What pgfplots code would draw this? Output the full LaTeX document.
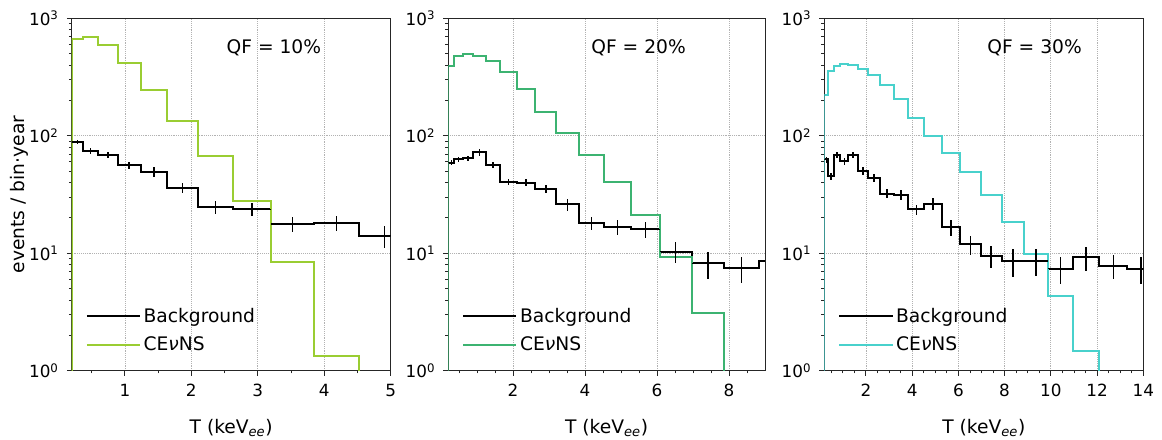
\documentclass[border=0pt]{standalone}
\usepackage{fontspec}
\setmainfont{DejaVu Sans}
\usepackage{pgfplots}
\usepackage{pgfplotstable}
\pgfplotsset{compat=1.18}

\definecolor{qften}{HTML}{9ACD32}
\definecolor{qftwenty}{HTML}{3CB371}
\definecolor{qfthirty}{HTML}{48D1CC}

% ---------- QF = 10% ----------
\pgfplotstableread{
x y
0.20 0.5
0.20 670
0.37 692
0.60 588
0.89 419
1.24 244
1.64 134
2.10 67.9
2.62 27.9
3.20 8.35
3.84 1.33
4.53 0.5
}\sigA
\pgfplotstableread{
x y
0.20 88.6
0.37 74.3
0.60 68.3
0.89 56.1
1.24 49.2
1.64 36.0
2.10 24.8
2.62 23.6
3.20 17.8
3.84 18.1
4.53 14.1
5.28 14.1
}\bkgA
\pgfplotstableread{
x y ex ey
0.285 88.6 0.085 3.5
0.485 74.3 0.115 4.5
0.745 68.3 0.145 4.1
1.065 56.1 0.175 3.8
1.44 49.2 0.20 4.7
1.87 36.0 0.23 3.5
2.36 24.8 0.26 3.1
2.91 23.6 0.29 3.0
3.52 17.8 0.32 2.6
4.185 18.1 0.345 2.7
4.905 14.1 0.375 3.0
}\errA

% ---------- QF = 20% ----------
\pgfplotstableread{
x y
0.20 0.5
0.20 392
0.37 474
0.60 500
0.89 477
1.24 430
1.64 347
2.10 249
2.62 159
3.20 105
3.84 68.3
4.53 40.2
5.28 21.1
6.08 9.21
6.96 3.08
7.87 0.5
}\sigB
\pgfplotstableread{
x y
0.20 59.2
0.37 62.9
0.60 64.3
0.89 72.2
1.24 56.9
1.64 40.2
2.10 39.8
2.62 35.5
3.20 26.1
3.84 18.1
4.53 16.8
5.28 16.0
6.08 10.3
6.96 8.19
7.87 7.43
8.84 8.57
9.87 8.57
}\bkgB
\pgfplotstableread{
x y ex ey
0.285 59.2 0.085 2.9
0.485 62.9 0.115 3.1
0.745 64.3 0.145 3.2
1.065 72.2 0.175 4.3
1.44 56.9 0.20 3.4
1.87 40.2 0.23 2.4
2.36 39.8 0.26 2.8
2.91 35.5 0.29 2.9
3.52 26.1 0.32 3.1
4.185 18.1 0.345 2.4
4.905 16.8 0.375 2.5
5.68 16.0 0.40 2.6
6.52 10.3 0.44 2.1
7.415 8.19 0.455 2.1
8.355 7.43 0.485 1.8
}\errB

% ---------- QF = 30% ----------
\pgfplotstableread{
x y
0.20 0.5
0.20 221
0.37 353
0.60 392
0.89 411
1.24 398
1.64 367
2.10 327
2.62 268
3.20 204
3.84 143
4.53 99.5
5.28 71.9
6.08 48.9
6.96 31.6
7.87 18.5
8.84 9.83
9.87 4.32
10.95 1.48
12.10 0.5
}\sigC
\pgfplotstableread{
x y
0.20 62.8
0.37 45.3
0.60 68.3
0.89 60.7
1.24 68.3
1.64 50.2
2.10 43.5
2.62 32.2
3.20 31.6
3.84 23.6
4.53 26.5
5.28 16.6
6.08 11.9
6.96 9.5
7.87 8.6
8.84 8.6
9.87 7.4
10.95 9.2
12.10 7.8
13.30 7.4
14.52 7.4
}\bkgC
\pgfplotstableread{
x y ex ey
0.285 62.8 0.085 3.7
0.485 45.3 0.115 3.3
0.745 68.3 0.145 4.2
1.065 60.7 0.175 3.8
1.44 68.3 0.20 4.1
1.87 50.2 0.23 3.5
2.36 43.5 0.26 3.4
2.91 32.2 0.29 2.8
3.52 31.6 0.32 3.0
4.185 23.6 0.345 2.3
4.905 26.5 0.375 3.0
5.68 16.6 0.40 2.6
6.52 11.9 0.44 2.2
7.415 9.5 0.455 2.0
8.355 8.6 0.485 2.3
9.355 8.6 0.515 2.2
10.41 7.4 0.54 1.9
11.525 9.2 0.575 2.2
12.70 7.8 0.60 1.8
13.91 7.4 0.61 1.9
}\errC

\pgfplotsset{
  every axis/.append style={
    scale only axis,
    height=264.3pt,
    ymin=1, ymax=1000,
    ytick={1,10,100,1000},
    yticklabels={10\textsuperscript{0},10\textsuperscript{1},10\textsuperscript{2},10\textsuperscript{3}},
    minor ytick={2,3,4,5,6,7,8,9,20,30,40,50,60,70,80,90,200,300,400,500,600,700,800,900},
    xmin=0.2,
    axis line style={black!85, line width=0.6pt},
    tick align=outside, tick pos=left,
    major tick length=3.7pt, minor tick length=2.1pt,
    every tick/.style={black!85, line width=0.6pt},
    grid=major,
    major grid style={densely dotted, black!30, line width=0.5pt},
    tick label style={font=\fontsize{12.6}{15}\selectfont},
    xticklabel shift=2.6pt, yticklabel shift=2.6pt,
    xlabel={T (keV\textsubscript{\textit{ee}})},
    xlabel style={font=\fontsize{14}{17}\selectfont, at={(axis description cs:0.5,-0.1796)}, anchor=base},
    legend style={draw=none, fill=none, font=\fontsize{14}{17}\selectfont,
      at={(axis description cs:0.031,0.035)}, anchor=south west, row sep=5.5pt},
    legend cell align=left,
    legend image code/.code={\draw[#1] (0pt,0pt) -- (28.5pt,0pt); \path (28.5pt,0pt) -- (39.8pt,0pt);},
  },
  bkgerr/.style={draw=none, mark=none, forget plot,
    error bars/.cd, x dir=both, x explicit, y dir=both, y explicit,
    error mark=none, error bar style={draw=black, solid, line width=1.1pt}},
}

\begin{document}
\begin{tikzpicture}
\path[use as bounding box] (0,0) rectangle (871.5pt,329.25pt);

\begin{axis}[ymode=log, /pgf/number format/assume math mode=true,
  at={(53.78pt,51.23pt)}, anchor=south west,
  width=239.25pt, xmax=5,
  xtick={1,2,3,4,5}, minor xtick={0.5,1.5,2.5,3.5,4.5},
  ylabel={events / bin·year},
  ylabel style={font=\fontsize{14}{17}\selectfont, at={(axis description cs:-0.1495,0.5)}, anchor=base}]
  \addplot[const plot mark left, black, line width=1.5pt] table[x=x,y=y] {\bkgA};
  \addlegendentry{Background}
  \addplot[const plot mark left, qften, line width=1.5pt] table[x=x,y=y] {\sigA};
  \addlegendentry{CE\textit{ν}NS}
  \addplot[bkgerr] table[x=x,y=y,x error=ex,y error=ey] {\errA};
  \node[anchor=base west, font=\fontsize{14}{17}\selectfont] at (axis description cs:0.471,0.9015) {QF = 10\%};
\end{axis}

\begin{axis}[ymode=log, /pgf/number format/assume math mode=true,
  at={(336.2pt,51.23pt)}, anchor=south west,
  width=237.5pt, xmax=9,
  xtick={2,4,6,8}, minor xtick={0.5,1,1.5,2.5,3,3.5,4.5,5,5.5,6.5,7,7.5,8.5}]
  \addplot[const plot mark left, black, line width=1.5pt] table[x=x,y=y] {\bkgB};
  \addlegendentry{Background}
  \addplot[const plot mark left, qftwenty, line width=1.5pt] table[x=x,y=y] {\sigB};
  \addlegendentry{CE\textit{ν}NS}
  \addplot[bkgerr] table[x=x,y=y,x error=ex,y error=ey] {\errB};
  \node[anchor=base west, font=\fontsize{14}{17}\selectfont] at (axis description cs:0.437,0.9015) {QF = 20\%};
\end{axis}

\begin{axis}[ymode=log, /pgf/number format/assume math mode=true,
  at={(618.2pt,51.23pt)}, anchor=south west,
  width=239.25pt, xmax=14,
  xtick={2,4,6,8,10,12,14},
  minor xtick={0.5,1,1.5,2.5,3,3.5,4.5,5,5.5,6.5,7,7.5,8.5,9,9.5,10.5,11,11.5,12.5,13,13.5}]
  \addplot[const plot mark left, black, line width=1.5pt] table[x=x,y=y] {\bkgC};
  \addlegendentry{Background}
  \addplot[const plot mark left, qfthirty, line width=1.5pt] table[x=x,y=y] {\sigC};
  \addlegendentry{CE\textit{ν}NS}
  \addplot[bkgerr] table[x=x,y=y,x error=ex,y error=ey] {\errC};
  \node[anchor=base west, font=\fontsize{14}{17}\selectfont] at (axis description cs:0.4966,0.9015) {QF = 30\%};
\end{axis}
\end{tikzpicture}
\end{document}
